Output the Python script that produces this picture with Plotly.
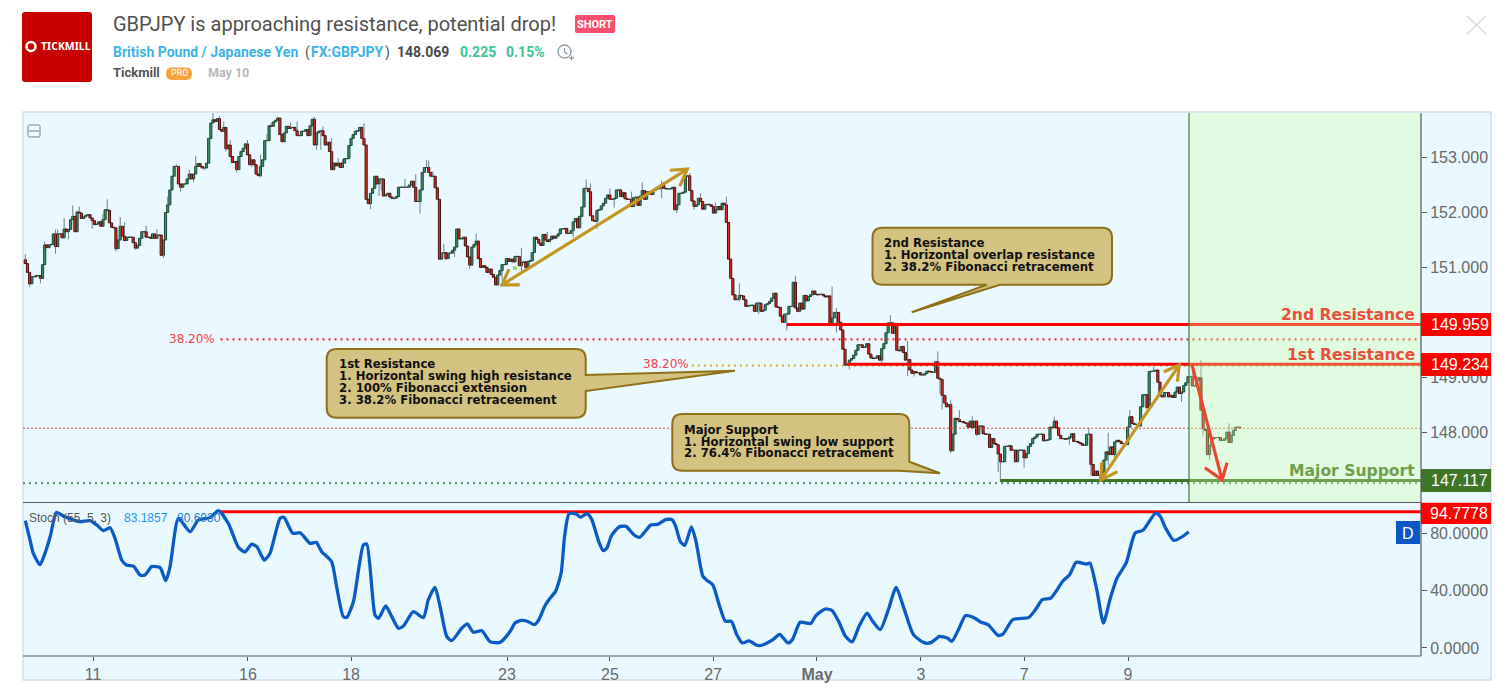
import plotly.graph_objects as go

W, H = 1512, 690

# ---------- DATA: hourly closes ----------
closes_a = [151.07,150.91,150.70,150.83,150.83,150.85,150.85,150.80,151.05,151.41,
151.36,151.41,151.42,151.61,151.38,151.61,151.61,151.54,151.70,151.65,
151.69,151.87,151.93,151.65,152.01,151.99,151.89,151.92,151.95,151.96,
151.90,151.85,151.78,151.79,151.83,151.75,151.87,152.05,152.04,151.81,
151.73,151.72,151.34,151.50,151.75,151.57,151.49,151.55,151.55,151.55,
151.45,151.35,151.40,151.53,151.65,151.65,151.55,151.55,151.53,151.61,
151.53,151.59,151.59,151.22,151.50,152.00,152.14,152.41,152.66,152.84,
152.84,152.52,152.46,152.52,152.52,152.61,152.70,152.61,152.70,152.84,
152.89,152.84,152.81,152.81,152.90,153.35,153.63,153.69,153.66,153.71,
153.51,153.48,153.55,153.16,153.23,153.02]
closes_b = [152.91,152.93,152.78,153.02,153.11,153.17,153.25,153.05,152.87,152.96,
152.87,152.70,152.67,152.84,152.96,153.31,153.31,153.58,153.57,153.65,
153.68,153.72,153.42,153.29,153.45,153.57,153.53,153.55,153.55,153.49,
153.40,153.40,153.48,153.48,153.51,153.40,153.58,153.70,153.23,153.45,
153.48,153.49,153.40,153.23,153.28,153.11,152.78,152.90,152.85,152.90,
152.82,152.90,152.98,152.98,153.22,153.35,153.42,153.48,153.49,153.55,
153.35,153.23,152.24,152.16,152.35,152.44,152.66,152.52,152.61,152.61,
152.30,152.32,152.35,152.28,152.26,152.26,152.29,152.46,152.46,152.46,
152.46,152.46,152.50,152.57,152.46,152.20,152.20,152.41,152.73,152.82,
152.82,152.73,152.66,152.66,152.45,152.24]
closes_c = [151.15,151.26,151.27,151.16,151.26,151.26,151.31,151.37,151.70,151.52,
151.52,151.55,151.39,151.19,151.04,151.37,151.42,151.48,151.16,151.00,
151.03,151.00,150.91,150.97,150.87,150.82,150.68,150.86,150.94,151.05,
151.05,151.16,151.11,151.15,151.10,151.20,151.20,151.03,151.09,151.10,
151.00,151.11,151.12,151.27,151.55,151.51,151.44,151.40,151.60,151.50,
151.47,151.51,151.57,151.53,151.57,151.61,151.70,151.70,151.71,151.62,151.62,
151.67,151.83,151.89,151.72,151.93,152.10,152.44,152.44,152.38,151.94,
151.85,151.84,152.04,152.05,152.12,152.17,152.26,152.32,152.24,152.24,152.26,
152.41,152.41,152.29,152.36,152.25,152.24,152.24,152.11,152.27,152.28,
152.13,152.30,152.40]
closes_d = [152.24,152.38,152.38,152.33,152.40,152.43,152.43,152.44,152.49,152.44,
152.43,152.43,152.43,152.46,152.05,152.14,152.35,152.35,152.37,
152.66,152.67,152.40,152.21,152.11,152.14,152.26,152.20,152.06,152.14,
152.15,152.14,152.11,151.99,152.05,152.11,152.05,152.17,152.14,151.82,
151.15,150.80,150.50,150.41,150.42,150.49,150.48,150.41,150.29,150.30,
150.31,150.31,150.20,150.35,150.35,150.20,150.22,150.32,150.34,150.38,
150.44,150.53,150.28,150.27,150.11,150.00,150.15,150.15,150.29,150.29,
150.73,150.26,150.20,150.35,150.24,150.49,150.39,150.47,150.50,150.57,
150.51,150.50,150.51,150.51,150.48,150.46,150.48,149.95,150.08,150.18,
150.18,150.00,149.86,149.51]
closes_e = [149.22,149.23,149.31,149.34,149.40,149.49,149.59,149.59,149.54,149.55,
149.61,149.42,149.35,149.34,149.35,149.39,149.31,149.52,149.61,149.81,
149.99,149.99,149.80,149.98,149.49,149.48,149.56,149.45,149.31,149.32,
149.13,149.07,149.10,149.08,149.08,149.04,149.04,149.07,149.11,149.10,
149.09,149.09,149.28,148.98,148.96,148.67,148.53,148.46,148.50,147.66,
147.96,148.25,148.23,148.19,148.19,148.17,148.16,148.09,148.20,148.08,
148.20,147.96,148.11,148.11,147.97,147.96,147.96,147.72,147.88,147.79,
147.77,147.60,147.46,147.46,147.74,147.74,147.75,147.67,147.67,147.46,
147.67,147.67,147.67,147.53,147.61,147.74,147.79,147.88,147.91,147.96,
147.96,147.96,147.84,147.85,147.86,148.09,148.08]
closes_f = [148.20,148.08,147.94,147.88,147.88,147.87,147.88,147.91,147.97,147.83,
147.83,147.81,147.79,147.76,147.76,147.96,147.96,147.41,147.21,147.29,
147.21,147.21,147.27,147.49,147.64,147.59,147.73,147.59,147.82,147.85,
147.83,147.79,147.79,147.77,148.09,148.28,148.16,148.14,148.14,148.11,
148.46,148.68,148.68,148.44,149.10,149.11,149.11,149.13,148.91,148.66,
148.64,148.72,148.72,148.64,148.67,148.63,148.73,148.82,148.70,148.73,
148.85,148.90,149.01,149.01,148.84,148.84,148.94,148.99,148.40,148.06,
148.03,147.59,147.76,147.88,147.90,147.90,147.90,147.85,147.85,147.88,
148.00,147.81,147.94,148.03,148.09,148.09,148.07]

high_bars = [0,9,14,15,18,22,25,36,38,44,46,56,61,66,70,76,79,87,90,92,95,100,103,109,112,114,117,123,126,134,138,142,145,147,157,176,179,181,186,187,189,194,209,230,236,242,254,260,262,271,276,281,286,295,308,313,320,325,331,357,374,376,401,409,423,427,429,433,439,477,493,502,512,523,541,545,558]
high_vals = [151.24,151.47,151.69,151.69,151.90,152.13,152.11,151.98,152.24,151.92,151.82,151.76,151.70,152.29,152.88,152.78,153.03,153.81,153.76,153.66,153.32,153.13,153.32,153.05,153.43,153.64,153.75,153.64,153.66,153.74,153.57,153.35,152.99,152.97,153.63,152.61,152.57,152.70,152.96,152.95,152.75,151.43,151.61,151.35,151.32,151.65,151.84,152.60,152.53,152.44,152.44,152.38,152.55,152.58,152.72,152.35,152.18,152.29,150.71,150.85,150.65,150.26,150.13,149.66,149.47,148.67,148.58,148.40,148.29,148.28,148.08,147.99,148.40,149.19,149.25,149.31,148.16]
low_bars = [2,3,7,14,20,31,42,51,64,72,78,83,93,98,105,109,135,137,159,160,164,165,171,183,195,199,206,221,230,254,265,273,295,302,310,327,331,340,353,359,376,382,397,409,412,424,425,429,441,451,452,463,484,494,498,502,505,536,546,549]
low_vals = [150.64,150.71,150.71,151.25,151.51,151.70,151.29,151.32,151.17,152.38,152.55,152.77,153.11,152.73,152.83,152.64,153.14,153.14,153.13,152.06,152.30,152.40,152.23,151.98,151.13,151.19,150.97,150.76,150.91,151.55,151.70,152.09,152.26,151.99,152.05,150.96,150.38,150.15,149.85,150.18,149.81,149.14,149.20,149.02,149.01,148.70,148.41,147.62,147.93,147.27,147.09,147.35,147.77,147.21,147.09,147.40,147.46,148.55,147.94,147.49]

stoch_bars = [0,2.2,3.7,6.8,9.1,11.5,14.5,17.6,21.5,25.4,30,33.1,36.2,39.3,41.6,44.7,47,50.1,53.2,55.5,58.6,62.5,65.1,67.1,71,76.4,80.2,85.6,89.5,94.1,98.8,101.9,104.9,107.3,110.8,113.4,118.1,119.9,124,127.4,132,134.8,137.4,142,144.3,147.4,149,152.1,156.7,158.3,162.1,163.7,167.1,169.9,173,175.3,179.9,184.5,186.8,189.9,192.3,195.4,197.7,202.3,204.9,207.7,211.6,215.4,220,
224.8,227,230.1,233.2,236,238.1,240.6,242.7,245.8,248.4,250,252.1,255.3,257.4,260.5,262.6,265.8,267.9,269.6,271.7,275.2,278.4,282.1,284.7,287.8,289.9,293.1,296.8,299.8,301.5,303.6,305.7,308.8,310.9,314.1,316.2,318.7,321.4,324.5,327.3,329.8,332.3,335.5,339.2,341.3,346.6,349.7,353.5,355.6,359.2,364,366.5,370.7,373.9,377,380.2,383.3,386.5,390.2,392.8,396.3,400.1,403.7,407.5,411.7,416.9,420.1,423.8,427.4,429.5,432.6,435.8,440,443.1,446.3,450.9,453.2,457.8,465.2,468.3,471.5,475.3,477.8,480.9,484.1,487.2,492,493.5,496.7,499.8,503,506.1,510.3,514.5,518.1,524,526.1,528.6,532.4,536.6,539.3]
stoch_vals = [88.6,75.1,65.8,58.0,65.8,77.4,94.4,91.8,89.5,87.9,88.6,85.6,81.6,83.7,76.3,61.2,57.5,57.0,50.8,50.8,56.6,55.9,46.8,56.6,90.2,80.9,89.0,90.7,95.5,86.7,70.0,66.8,72.3,70.5,61.2,65.8,90.2,90.9,79.8,80.2,72.8,73.5,67.0,60.0,42.7,21.8,21.3,32.2,71.6,72.3,23.0,20.6,29.2,21.8,13.7,15.3,25.3,21.1,33.4,42.2,28.7,7.9,5.1,13.7,16.7,10.9,12.0,4.4,3.9,
11.6,17.4,19.2,18.3,16.2,19.7,28.5,33.6,39.4,52.2,77.7,93.5,93.2,91.1,93.5,89.3,74.2,67.7,69.6,78.1,84.2,84.6,78.8,77,81.9,85.6,86,89.3,89.3,84.6,74.2,71.4,84.2,74.2,49.9,46.8,44,31.3,18.6,18.6,9.3,3.5,4.9,1.9,1.9,5.8,9.5,3.5,5.8,17.9,17,22.5,27.1,26.2,18.6,8.1,4.2,15.1,24.3,18.6,12.8,26.7,42.2,26.7,9.3,3.5,3.9,8.1,6.9,4.6,12.8,22.5,20.9,17.9,16.2,8.8,9.7,19.7,21.3,26.7,33.6,34.6,39.4,46.4,51,59.6,58.4,59.1,40.6,17.4,34.8,48.7,59.1,80,81.9,93.9,91.6,83.5,74.9,77.7,80.9]

level_2nd = 149.959
level_1st = 149.234
level_sup = 147.117
level_stoch = 94.7778
last_price = 148.069
fib_upper = 149.69
fib_lower = 149.21
fib_support = 147.07

price_ticks = [148, 149, 151, 152, 153]
price_tick_labels = ["148.000", "149.000", "151.000", "152.000", "153.000"]
stoch_ticks = [0, 40, 80]
stoch_tick_labels = ["0.0000", "40.0000", "80.0000"]
date_ticks = [31.4, 103.2, 151, 223.3, 271, 318.8, 367, 415.2, 463, 511.2]
date_labels = ["11", "16", "18", "23", "25", "27", "<b>May</b>", "3", "7", "9"]

# drawn arrows, as (bar, price)
gold_arrow_1 = [(221, 150.68), (306.9, 152.79)]
gold_arrow_1_heads = [[(229.2, 150.68), (221, 150.68), (224.2, 150.97)], [(298.8, 152.77), (306.9, 152.79), (303.4, 152.48)]]
gold_arrow_2 = [(498.6, 147.13), (534.9, 149.22)]
gold_arrow_2_heads = [[(506.3, 147.28), (498.6, 147.13), (499, 147.45)], [(527.8, 149.10), (534.9, 149.22), (534.1, 148.92)]]
red_arrow = [(540.9, 149.22), (554.8, 147.13)]
red_arrow_head = [(546.8, 147.35), (554.8, 147.13), (557.1, 147.44)]

# ---------- build ----------
closes = closes_a + closes_b + closes_c + closes_d + closes_e + closes_f
opens = [closes[0] + 0.07] + closes[:-1]
bars = list(range(len(closes)))
xmax = 647.0; xmin = -1.07

up_x = [i for i in bars if closes[i] >= opens[i]]
dn_x = [i for i in bars if closes[i] < opens[i]]

def px(x): return x / W
def py(y): return 1 - y / H

GREEN = "#3f8f69"; GREEN_L = "#1c4a36"; RED = "#e02a24"; RED_L = "#4a1210"
WICK = "#75808a"

fig = go.Figure()

wx, wy = [], []
for b, v in zip(high_bars, high_vals):
    if b < len(closes):
        wx += [b, b, None]; wy += [max(opens[b], closes[b]), max(v, opens[b], closes[b]), None]
for b, v in zip(low_bars, low_vals):
    if b < len(closes):
        wx += [b, b, None]; wy += [min(opens[b], closes[b]), min(v, opens[b], closes[b]), None]
fig.add_trace(go.Bar(x=up_x, y=[closes[i]-opens[i] for i in up_x], base=[opens[i] for i in up_x], width=1.0,
                     marker=dict(color=GREEN, line=dict(color=GREEN_L, width=1))))
fig.add_trace(go.Bar(x=dn_x, y=[closes[i]-opens[i] for i in dn_x], base=[opens[i] for i in dn_x], width=1.0,
                     marker=dict(color=RED, line=dict(color=RED_L, width=1))))
fig.add_trace(go.Scatter(x=wx, y=wy, mode="lines", line=dict(color=WICK, width=1)))

def hline(x0, y, color, width, dash=None, yaxis="y"):
    fig.add_trace(go.Scatter(x=[x0, xmax], y=[y, y], mode="lines", yaxis=yaxis,
                             line=dict(color=color, width=width, dash=dash)))

hline(xmin, last_price, "#ef4a3f", 1, "2px,2px")
hline(90.5, fib_upper, "#ff2a35", 2.2, "2px,4px")
hline(309, fib_lower, "#dcb03c", 2.2, "2px,4px")
hline(xmin, fib_support, "#5f9c68", 2.2, "2px,4px")
hline(353, level_2nd, "#ff0000", 3)
hline(381, level_1st, "#ff0000", 3)
hline(452, level_sup, "#3f7526", 3)
hline(90, level_stoch, "#ff0000", 3, yaxis="y2")

def poly(pts, color, width=3.2):
    fig.add_trace(go.Scatter(x=[p[0] for p in pts], y=[p[1] for p in pts], mode="lines",
                             line=dict(color=color, width=width)))

GOLD = "#c49522"
poly(gold_arrow_1, GOLD)
for h in gold_arrow_1_heads: poly(h, GOLD)
poly(gold_arrow_2, GOLD)
for h in gold_arrow_2_heads: poly(h, GOLD)

fig.add_trace(go.Scatter(x=stoch_bars, y=stoch_vals, mode="lines", yaxis="y2",
                         line=dict(color="#0a5bc4", width=3.3, shape="spline", smoothing=0.6)))

# ---------- shapes ----------
shapes = []
def rect(x0, y0, x1, y1, fill, line=None, lw=0, layer="above"):
    shapes.append(dict(type="rect", xref="paper", yref="paper", x0=px(x0), x1=px(x1), y0=py(y1), y1=py(y0),
                       fillcolor=fill, line=dict(color=line or fill, width=lw), layer=layer))
def seg(x0, y0, x1, y1, color, lw=1, layer="above"):
    shapes.append(dict(type="line", xref="paper", yref="paper", x0=px(x0), x1=px(x1), y0=py(y0), y1=py(y1),
                       line=dict(color=color, width=lw), layer=layer))
def path(points, fill=None, line=None, lw=0, layer="above"):
    shapes.append(dict(type="path", xref="paper", yref="paper", path=points, fillcolor=fill or "rgba(0,0,0,0)",
                       line=dict(color=line or "rgba(0,0,0,0)", width=lw), layer=layer))
def P(x, y): return f"{px(x):.5f},{py(y):.5f}"
def rrect(x0, y0, x1, y1, r, fill, layer="above", line=None, lw=0):
    d = (f"M{P(x0+r,y0)} L{P(x1-r,y0)} Q{P(x1,y0)} {P(x1,y0+r)} L{P(x1,y1-r)} Q{P(x1,y1)} {P(x1-r,y1)} "
         f"L{P(x0+r,y1)} Q{P(x0,y1)} {P(x0,y1-r)} L{P(x0,y0+r)} Q{P(x0,y0)} {P(x0+r,y0)} Z")
    path(d, fill, line, lw, layer)

rect(23, 112, 1491, 680, "#e9f9ff", "#d5dee5", 1.5, layer="below")
rect(1189, 113, 1421, 502, "rgba(206,255,161,0.33)")
seg(1189, 113, 1189, 502, "#3f7d3c", 1.2)
seg(23, 502.5, 1421, 502.5, "#55585c", 1.2)
seg(23, 656, 1421, 656, "#55585c", 1.2)
seg(1421, 113, 1421, 656, "#55585c", 1.2)

# red arrow sits on top of the green zone
def data_path(pts):
    return "M" + " L".join(f"{a},{b}" for a, b in pts)
for pts in (red_arrow, red_arrow_head):
    shapes.append(dict(type="path", xref="x", yref="y", path=data_path(pts), layer="above",
                       line=dict(color="#ee4430", width=3.2)))

# collapse box
rrect(28, 125, 40, 137, 1.5, "rgba(0,0,0,0)", line="#7b8187", lw=1)
seg(29, 131, 39, 131, "#7b8187", 1)
# dot
shapes.append(dict(type="circle", xref="paper", yref="paper", x0=px(513), x1=px(517), y0=py(270), y1=py(266),
                   fillcolor="#7fd84f", line=dict(width=0)))

CAL = "#d4c281"; CALL = "#8f7019"
def callout(x0, y0, x1, y1, tail):
    r = 10
    d = f"M{P(x0+r,y0)} L{P(x1-r,y0)} Q{P(x1,y0)} {P(x1,y0+r)} "
    if tail[0] == "right":
        d += f"L{P(x1,tail[1])} L{P(tail[3],tail[4])} L{P(x1,tail[2])} "
    d += f"L{P(x1,y1-r)} Q{P(x1,y1)} {P(x1-r,y1)} "
    if tail[0] == "bottom":
        d += f"L{P(tail[2],y1)} L{P(tail[3],tail[4])} L{P(tail[1],y1)} "
    if tail[0] == "br":
        d = f"M{P(x0+r,y0)} L{P(x1-r,y0)} Q{P(x1,y0)} {P(x1,y0+r)} L{P(x1,tail[1])} L{P(tail[2],tail[3])} L{P(x1-r,y1)} "
    d += f"L{P(x0+r,y1)} Q{P(x0,y1)} {P(x0,y1-r)} L{P(x0,y0+r)} Q{P(x0,y0)} {P(x0+r,y0)} Z"
    path(d, CAL, CALL, 2)
callout(872.5, 227.7, 1112, 284.7, ("bottom", 986.7, 1000, 911.7, 312.3))
callout(326.7, 349, 585.7, 417.7, ("right", 375, 391, 735, 370.7))
callout(672.3, 414, 909.3, 470.7, ("br", 461.7, 940, 473.3))

# price tags and badges
rect(1421, 313, 1491, 336, "#ff0000")
rect(1421, 353, 1491, 376, "#ff0000")
rect(1421, 469, 1491, 492, "#3f7526")
rect(1421, 502.7, 1491, 524, "#ff0000")
rect(1396, 521, 1420, 544, "#0a56c3")

# header
rrect(22, 12, 92, 82, 3, "#c70000")
shapes.append(dict(type="circle", xref="paper", yref="paper", x0=px(26.5), x1=px(35.5), y0=py(51), y1=py(42),
                   fillcolor="rgba(0,0,0,0)", line=dict(color="white", width=2.5)))
rrect(575, 15, 615, 33, 2, "#fb4d6d")
rrect(166, 67.5, 192, 80, 6, "#f7a23c")
shapes.append(dict(type="circle", xref="paper", yref="paper", x0=px(558), x1=px(571), y0=py(58), y1=py(45),
                   fillcolor="rgba(0,0,0,0)", line=dict(color="#8b97a3", width=1.3)))
seg(569, 58, 574, 58, "#8b97a3", 1.2); seg(571.5, 55.5, 571.5, 60.5, "#8b97a3", 1.2)
seg(564.5, 48, 564.5, 52, "#8b97a3", 1.2); seg(564.5, 52, 567.5, 54, "#8b97a3", 1.2)
seg(1467, 16, 1486, 34, "#d9dde1", 1.5); seg(1486, 16, 1467, 34, "#d9dde1", 1.5)

# ---------- text ----------
ann = []
def text(x, y, s, size, color, font="Roboto", anchor="left", **kw):
    ann.append(dict(xref="paper", yref="paper", x=px(x), y=py(y), text=s, showarrow=False, xanchor=anchor,
                    yanchor="middle", font=dict(size=size, color=color, family=font), borderpad=0, **kw))

TF = "Liberation Sans"
text(112, 24, "GBPJPY is approaching resistance, potential drop!", 20, "#505050")
text(595, 24, "<b>SHORT</b>", 11, "#ffffff", anchor="center")
text(112, 52, "<b>British Pound / Japanese Yen</b>", 14, "#3bb3e4")
text(304, 52, "(", 14, "#555555")
text(310, 52, "<b>FX:GBPJPY</b>", 14, "#3bb3e4")
text(384, 52, ")", 14, "#555555")
text(396, 52, "<b>148.069</b>", 14, "#4a4a4a")
text(459, 52, "<b>0.225</b>", 14, "#3cc393")
text(505, 52, "<b>0.15%</b>", 14, "#3cc393")
text(112, 73, "<b>Tickmill</b>", 13, "#555555")
text(179, 73.5, "PRO", 9, "#ffffff", anchor="center")
text(207, 73, "<b>May 10</b>", 12.5, "#b6b9c0")
text(40, 46.5, "<b>TICKMILL</b>", 10.5, "#ffffff", font="Noto Sans")

text(28, 518, "Stoch (55, 5, 3)", 12, "#555555", font=TF)
text(123, 518, "83.1857", 12, "#2196f3", font=TF)
text(176, 518, "80.6030", 12, "#1f7ad0", font=TF)

DJ = "DejaVu Sans"
for i, s in enumerate(["2nd Resistance", "1. Horizontal overlap resistance", "2. 38.2% Fibonacci retracement"]):
    text(883, 243 + i * 12.2, f"<b>{s}</b>", 11.7, "#111111", font=DJ)
for i, s in enumerate(["1st Resistance", "1. Horizontal swing high resistance", "2. 100% Fibonacci extension", "3. 38.2% Fibonacci retraceement"]):
    text(338, 364.3 + i * 12, f"<b>{s}</b>", 11.7, "#111111", font=DJ)
for i, s in enumerate(["Major Support", "1. Horizontal swing low support", "2. 76.4% Fibonacci retracement"]):
    text(683, 430 + i * 11.7, f"<b>{s}</b>", 11.7, "#111111", font=DJ)

text(216, 339, "38.20%", 12, "#f2404c", font=DJ, anchor="right")
text(690, 364.5, "38.20%", 12, "#f2404c", font=DJ, anchor="right")

text(1416, 315, "<b>2nd Resistance</b>", 15.6, "#ea4f3a", font=DJ, anchor="right")
text(1416, 355, "<b>1st Resistance</b>", 15.6, "#ea4f3a", font=DJ, anchor="right")
text(1416, 471, "<b>Major Support</b>", 15.6, "#6f9f4a", font=DJ, anchor="right")

text(1430, 324.5, "149.959", 16, "#ffffff", font=TF)
text(1430, 364.5, "149.234", 16, "#ffffff", font=TF)
text(1430, 480.5, "147.117", 16, "#ffffff", font=TF)
text(1429, 513, "94.7778", 16, "#ffffff", font=TF)
text(1408, 533, "D", 16, "#ffffff", font=TF, anchor="center")

fig.update_layout(
    width=W, height=H, margin=dict(l=0, r=0, t=0, b=0), showlegend=False, hovermode=False,
    barmode="overlay", paper_bgcolor="white", plot_bgcolor="rgba(0,0,0,0)",
    shapes=shapes, annotations=ann,
    xaxis=dict(domain=[px(23), px(1421)], range=[xmin, xmax], anchor="y2", showgrid=False, zeroline=False,
               tickmode="array", tickvals=date_ticks, ticktext=date_labels, ticks="outside", ticklen=4,
               tickcolor="#55585c", tickfont=dict(size=16, color="#6a6a6a", family=TF), showline=False),
    yaxis=dict(domain=[py(502), py(113)], range=[146.726, 153.8125], side="right", anchor="x", showgrid=False,
               zeroline=False, tickmode="array", tickvals=price_ticks, ticktext=price_tick_labels, ticks="outside",
               ticklen=5, tickcolor="#55585c", tickfont=dict(size=16, color="#6a6a6a", family=TF)),
    yaxis2=dict(domain=[py(656), py(503)], range=[-5.57, 100.87], side="right", anchor="x", showgrid=False,
                zeroline=False, tickmode="array", tickvals=stoch_ticks, ticktext=stoch_tick_labels, ticks="outside",
                ticklen=5, tickcolor="#55585c", tickfont=dict(size=16, color="#6a6a6a", family=TF)),
)

fig.write_html("out.html", config=dict(displayModeBar=False, staticPlot=True),
               post_script="document.body.style.margin='0';document.body.style.overflow='hidden';")
